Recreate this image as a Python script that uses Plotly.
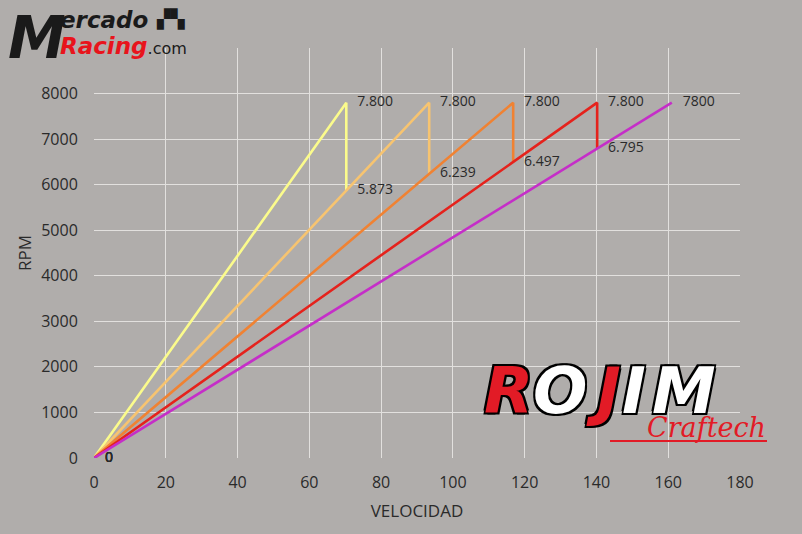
import plotly.graph_objects as go

# ---- data ----
gear_names = ["1ª", "2ª", "3ª", "4ª", "5ª"]
peak_speed = [70.3, 93.4, 116.8, 140.2, 161.0]   # km/h at cut-off
peak_rpm = [7800, 7800, 7800, 7800, 7800]
drop_rpm = [5873, 6239, 6497, 6795, None]        # rpm after shifting
peak_labels = ["7.800", "7.800", "7.800", "7.800", "7800"]
drop_labels = ["5.873", "6.239", "6.497", "6.795", None]
colors = ["#fbfb8c", "#f7c470", "#f08232", "#e5221c", "#c52ec8"]

x_ticks = [0, 20, 40, 60, 80, 100, 120, 140, 160, 180]
y_ticks = [0, 1000, 2000, 3000, 4000, 5000, 6000, 7000, 8000, 9000]
y_ticktext = ["0", "1000", "2000", "3000", "4000", "5000", "6000", "7000", "8000", ""]

BG = "#b0adab"
TXT = "#2a2a2a"
FONT = "Open Sans, Liberation Sans, sans-serif"

fig = go.Figure()
for i in range(len(gear_names)):
    xs = [0, peak_speed[i]]
    ys = [0, peak_rpm[i]]
    txt = ["   0", "   " + peak_labels[i]]
    if drop_rpm[i] is not None:
        xs.append(peak_speed[i])
        ys.append(drop_rpm[i])
        txt.append("   " + drop_labels[i])
    fig.add_trace(go.Scatter(
        x=xs, y=ys, mode="lines+text", text=txt,
        textposition="middle right",
        textfont=dict(family=FONT, size=14, color=TXT),
        line=dict(color=colors[i], width=2.6),
        name=gear_names[i], showlegend=False, cliponaxis=False,
    ))

fig.update_layout(
    width=802, height=534,
    margin=dict(l=94, r=62, t=48, b=76),
    paper_bgcolor=BG, plot_bgcolor=BG,
    font=dict(family=FONT, size=16, color=TXT),
    xaxis=dict(range=[0, 180], tickvals=x_ticks, showgrid=True,
               gridcolor="#e2e0de", gridwidth=1.4, zeroline=False,
               showline=False, ticks="outside", ticklen=10, tickcolor=BG,
               title=dict(text="VELOCIDAD", font=dict(size=17, color=TXT), standoff=12),
               tickfont=dict(size=16, color=TXT)),
    yaxis=dict(range=[0, 9000], tickvals=y_ticks, ticktext=y_ticktext, showgrid=True,
               gridcolor="#e2e0de", gridwidth=1.4, zeroline=False,
               showline=False, ticks="outside", ticklen=12, tickcolor=BG,
               title=dict(text="RPM", font=dict(size=17, color=TXT), standoff=5),
               tickfont=dict(size=16, color=TXT)),
)

# ---- watermark logos as text ----
def px_x(p):
    return (p - 94) / 646.0

def px_y(p):
    return (458 - p) / 410.0

fig.add_annotation(xref="paper", yref="paper", x=px_x(6), y=px_y(2), xanchor="left", yanchor="top",
                   text="<b><i>M</i></b>", showarrow=False,
                   font=dict(family="DejaVu Sans", size=58, color="#1a1a1a"))
fig.add_annotation(xref="paper", yref="paper", x=px_x(58), y=px_y(5), xanchor="left", yanchor="top",
                   text="<b><i>ercado</i></b>", showarrow=False,
                   font=dict(family="DejaVu Sans", size=23, color="#1a1a1a"))
fig.add_annotation(xref="paper", yref="paper", x=px_x(154), y=px_y(6), xanchor="left", yanchor="top",
                   text="▞▚", showarrow=False,
                   font=dict(family="DejaVu Sans", size=18, color="#1a1a1a"))
fig.add_annotation(xref="paper", yref="paper", x=px_x(58), y=px_y(31), xanchor="left", yanchor="top",
                   text="<b><i><span style='color:#e8141c'>Racing</span></i></b><span style='font-size:16px'>.com</span>",
                   showarrow=False,
                   font=dict(family="DejaVu Sans", size=23, color="#1a1a1a"))

rojim_letters = ["R", "O", "J", "I", "M"]
rojim_centers = [508, 560, 603, 634, 684]
rojim_colors = ["#e21b26", "#ffffff", "#e21b26", "#ffffff", "#ffffff"]
for ch, cx, cc in zip(rojim_letters, rojim_centers, rojim_colors):
    fig.add_annotation(xref="paper", yref="paper", x=px_x(cx), y=px_y(391),
                       xanchor="center", yanchor="middle",
                       text="<b><i>" + ch + "</i></b>", showarrow=False,
                       font=dict(family="DejaVu Sans", size=64, color=cc,
                                 shadow="2px 2px 0 #000, -2px -2px 0 #000, 2px -2px 0 #000, -2px 2px 0 #000"))
fig.add_annotation(xref="paper", yref="paper", x=px_x(706), y=px_y(427), xanchor="center", yanchor="middle",
                   text="<i>Craftech</i>", showarrow=False,
                   font=dict(family="DejaVu Serif", size=27, color="#e21b26"))
fig.add_shape(type="line", xref="paper", yref="paper", x0=px_x(610), x1=px_x(767),
              y0=px_y(441), y1=px_y(441), line=dict(color="#e21b26", width=2))

fig.write_html("out.html", config={"displayModeBar": False},
               post_script="document.body.style.margin='0';")
